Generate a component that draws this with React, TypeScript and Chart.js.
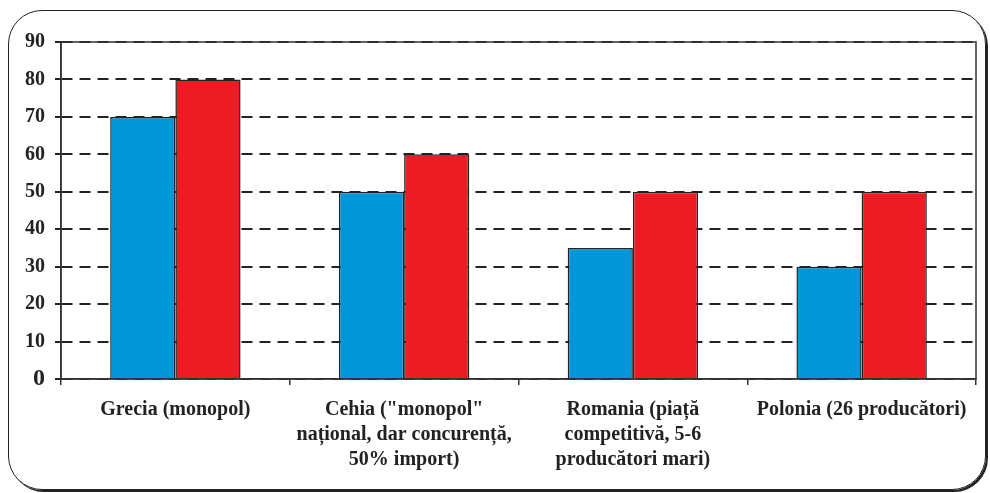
import React, { useEffect, useRef } from "react";
import { Chart, registerables } from "chart.js";

Chart.register(...registerables);

const categories: (string | string[])[] = [
  "Grecia (monopol)",
  ['Cehia ("monopol"', "național, dar concurență,", "50% import)"],
  ["Romania (piață", "competitivă, 5-6", "producători mari)"],
  "Polonia (26 producători)",
];
const seriesBlue = [70, 50, 35, 30];
const seriesRed = [80, 60, 50, 50];
const yTicks = [0, 10, 20, 30, 40, 50, 60, 70, 80, 90];

const FONT = "'Liberation Serif', 'Times New Roman', serif";

export default function App() {
  const ref = useRef<HTMLCanvasElement | null>(null);
  useEffect(() => {
    if (!ref.current) return;
    const borderPlugin = {
      id: "areaBorder",
      afterDraw(chart: any) {
        const { ctx, chartArea } = chart;
        ctx.save();
        ctx.strokeStyle = "#333";
        ctx.lineWidth = 1.5;
        ctx.setLineDash([]);
        ctx.strokeRect(chartArea.left, chartArea.top, chartArea.right - chartArea.left, chartArea.bottom - chartArea.top);
        ctx.restore();
      },
    };
    const chart = new Chart(ref.current, {
      type: "bar",
      data: {
        labels: categories,
        datasets: [
          { data: seriesBlue, backgroundColor: "#0096d8", borderColor: "#222", borderWidth: 1.5 },
          { data: seriesRed, backgroundColor: "#ed1c24", borderColor: "#222", borderWidth: 1.5 },
        ],
      },
      options: {
        animation: false,
        responsive: false,
        layout: { padding: { left: 0, right: 14, top: 42, bottom: 0 } },
        plugins: { legend: { display: false }, tooltip: { enabled: false } },
        datasets: { bar: { barPercentage: 1, categoryPercentage: 0.57 } },
        scales: {
          x: {
            offset: true,
            grid: { offset: true, drawOnChartArea: false, drawTicks: true, tickLength: 6, color: "#333", lineWidth: 1.5 },
            border: { display: true, color: "#333", width: 1.5 },
            ticks: {
              color: "#222",
              padding: 12,
              maxRotation: 0,
              autoSkip: false,
              font: { family: FONT, size: 20, weight: "bold", lineHeight: 1.25 },
            },
            afterFit(scale: any) {
              scale.height = 114;
            },
          },
          y: {
            min: 0,
            max: 90,
            afterBuildTicks(scale: any) {
              scale.ticks = yTicks.map((v) => ({ value: v }));
            },
            grid: {
              color: "#222",
              lineWidth: 2,
              tickLength: 6,
              tickBorderDash: [],
            },
            border: { display: true, color: "#333", width: 1.5, dash: [11, 7] },
            ticks: {
              color: "#222",
              padding: 10,
              font: (ctx: any) => ({
                family: FONT,
                size: ctx.tick && ctx.tick.value === 0 ? 24 : 20,
                weight: "bold",
              }),
            },
            afterFit(scale: any) {
              scale.width = 61;
            },
          },
        },
      } as any,
      plugins: [borderPlugin],
    });
    return () => chart.destroy();
  }, []);

  return (
    <div style={{ position: "fixed", left: 0, top: 0, width: 990, height: 493 }}>
      <div
        style={{
          position: "absolute",
          left: 8,
          top: 10,
          width: 976,
          height: 478,
          border: "1.5px solid #222",
          borderRadius: 34,
          boxShadow: "2px 2px 0 #222",
        }}
      />
      <canvas ref={ref} width={990} height={493} style={{ position: "absolute", left: 0, top: 0 }} />
    </div>
  );
}
